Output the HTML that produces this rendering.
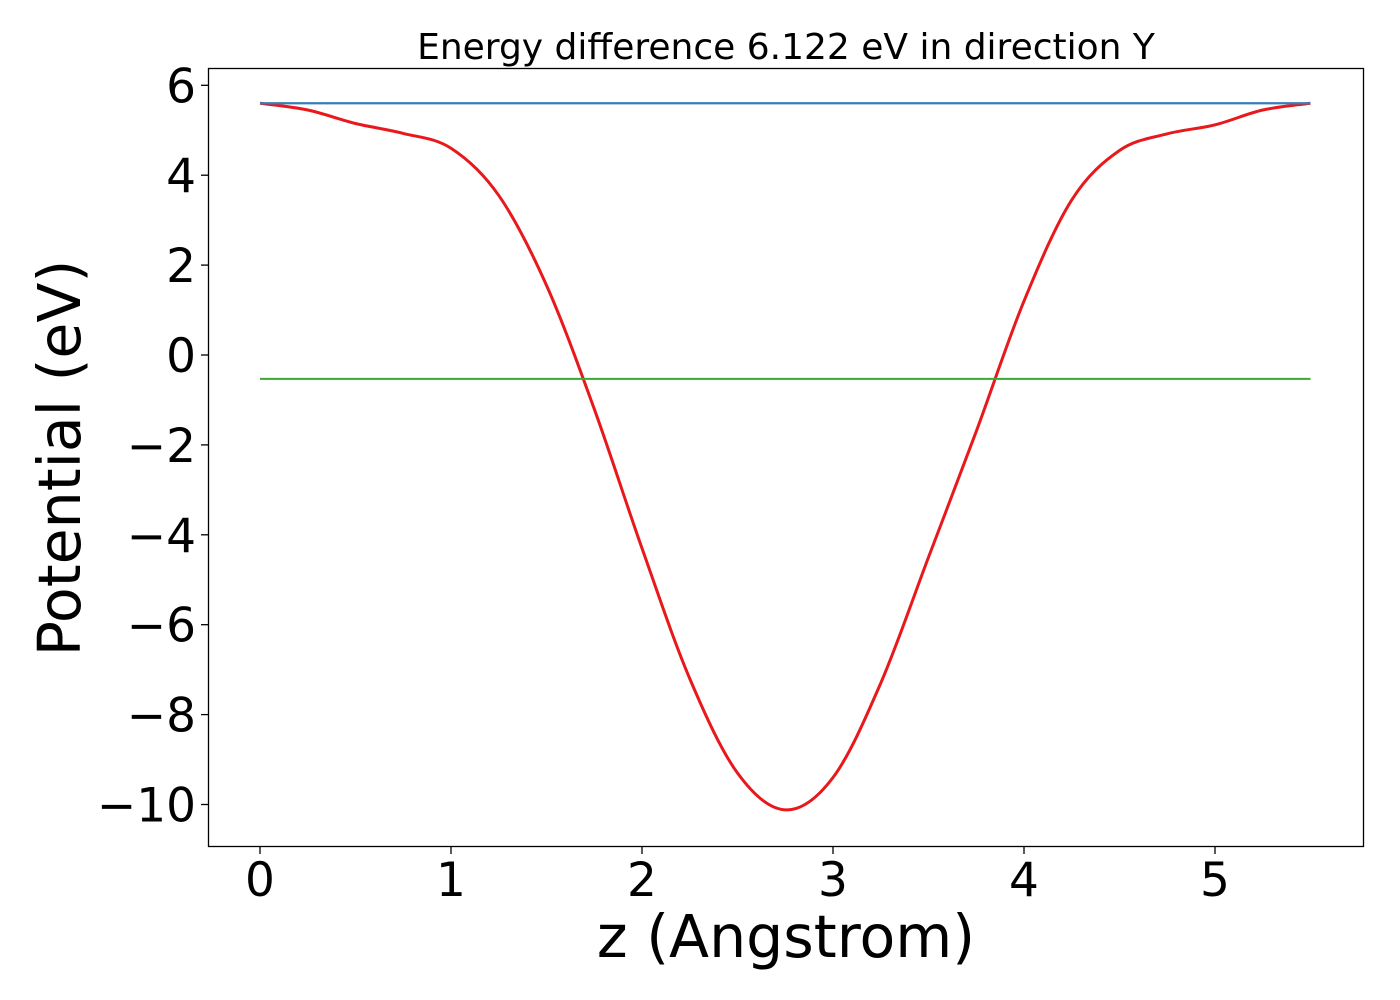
<!DOCTYPE html>
<html><head><meta charset="utf-8"><style>
html,body{margin:0;padding:0;background:#fff;}
svg{display:block;font-family:"DejaVu Sans","Liberation Sans",sans-serif;}
</style></head><body>
<svg id="chart" width="1400" height="1000">
<text x="786" y="59" font-size="36" text-anchor="middle">Energy difference 6.122 eV in direction Y</text>
<g id="xticks"></g><g id="yticks"></g>
<g id="series"></g>
<rect x="208.5" y="68.5" width="1155" height="778" fill="none" stroke="#000" stroke-width="1.3"/>
<text x="786" y="957" font-size="58.5" text-anchor="middle">z (Angstrom)</text>
<text transform="translate(80,458) rotate(-90)" font-size="58.5" text-anchor="middle">Potential (eV)</text>
</svg>
<script>
const zValues=[0,0.25,0.5,0.75,1.0,1.25,1.5,1.75,2.0,2.25,2.5,2.75,3.0,3.25,3.5,3.75,4.0,4.25,4.5,4.75,5.0,5.25,5.5];
const potential=[5.6,5.45,5.15,4.93,4.6,3.55,1.55,-1.2,-4.3,-7.2,-9.3,-10.12,-9.4,-7.3,-4.5,-1.7,1.2,3.45,4.55,4.92,5.12,5.45,5.6];
const vacuumLevel=[5.6];
const fermiLevel=[-0.53];
const xTicks=[0,1,2,3,4,5];
const yTicks=[6,4,2,0,-2,-4,-6,-8,-10];
const NS="http://www.w3.org/2000/svg";
const X=z=>260+191*z, Y=v=>355-44.95*v;
function mk(tag,attrs,parent){const e=document.createElementNS(NS,tag);for(const k in attrs)e.setAttribute(k,attrs[k]);parent.appendChild(e);return e;}
const xg=document.getElementById('xticks'),yg=document.getElementById('yticks'),sg=document.getElementById('series');
xTicks.forEach(t=>{
 const l=mk('line',{x1:X(t),x2:X(t),y1:847,y2:854,stroke:'#000','stroke-width':1.3},xg);
 
 
 const tx=mk('text',{x:X(t),y:896,'font-size':47,'text-anchor':'middle'},xg);tx.textContent=t;
 
 
});
yTicks.forEach(t=>{
 const l=mk('line',{x1:201,x2:208,y1:Y(t),y2:Y(t),stroke:'#000','stroke-width':1.3},yg);
 
 
 const tx=mk('text',{x:196,y:Y(t)+17,'font-size':47,'text-anchor':'end'},yg);tx.textContent=(t<0?'\u2212'+(-t):t);
 
 
});
const P=zValues.map((z,i)=>[X(z),Y(potential[i])]);
let d='M'+P[0][0]+','+P[0][1];
for(let i=0;i<P.length-1;i++){const p0=P[Math.max(0,i-1)],p1=P[i],p2=P[i+1],p3=P[Math.min(P.length-1,i+2)];
 d+=' C'+(p1[0]+(p2[0]-p0[0])/6)+','+(p1[1]+(p2[1]-p0[1])/6)+' '+(p2[0]-(p3[0]-p1[0])/6)+','+(p2[1]-(p3[1]-p1[1])/6)+' '+p2[0]+','+p2[1];}
const red=mk('path',{d:d,fill:'none',stroke:'#e8191c','stroke-width':3},sg);


const zmin=zValues[0],zmax=zValues[zValues.length-1];
const g=mk('line',{x1:X(zmin),x2:X(zmax),y1:Y(fermiLevel[0]),y2:Y(fermiLevel[0]),stroke:'#3aaa35','stroke-width':2},sg);


const b=mk('line',{x1:X(zmin),x2:X(zmax),y1:Y(vacuumLevel[0]),y2:Y(vacuumLevel[0]),stroke:'#377eb8','stroke-width':2.2},sg);


</script>
</body></html>
